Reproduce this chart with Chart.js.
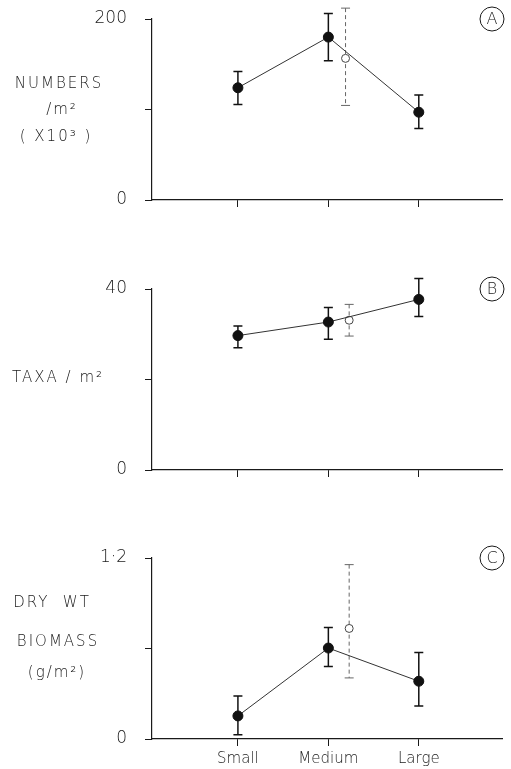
<!DOCTYPE html>
<html lang="en">
<head>
  <meta charset="UTF-8" />
  <title>Size class comparison</title>
  <script src="https://cdn.jsdelivr.net/npm/chart.js"></script>
  <style>
    body { margin: 0; background: #fff; }
    canvas.panel { position: absolute; left: 0; }
  </style>
</head>
<body>
  <canvas id="chartA" class="panel" width="511" height="230" style="top:0px;width:511px;height:230px"></canvas>
  <canvas id="chartB" class="panel" width="511" height="230" style="top:270px;width:511px;height:230px"></canvas>
  <canvas id="chartC" class="panel" width="511" height="230" style="top:539px;width:511px;height:230px"></canvas>

  <script>
    // categories on the x axis
    const sizeClasses = ['Small', 'Medium', 'Large'];
    const classPos = [1, 2, 3];

    // Panel A - numbers / m2 (x 10^3)
    const numbersMean = [124, 180, 97];
    const numbersLo = [105.5, 154, 79];
    const numbersHi = [142, 206, 116];
    const numbersOpenX = [2.19];
    const numbersOpen = [156.5];
    const numbersOpenLo = [104.5];
    const numbersOpenHi = [212];
    const numbersTicks = [0, 100, 200];
    const numbersTickLabels = ['0', '', '200'];

    // Panel B - taxa / m2
    const taxaMean = [29.7, 32.7, 37.7];
    const taxaLo = [27.0, 28.9, 33.9];
    const taxaHi = [31.8, 35.9, 42.3];
    const taxaOpenX = [2.23];
    const taxaOpen = [33.1];
    const taxaOpenLo = [29.6];
    const taxaOpenHi = [36.6];
    const taxaTicks = [0, 20, 40];
    const taxaTickLabels = ['0', '', '40'];

    // Panel C - dry wt biomass g/m2
    const biomassMean = [0.153, 0.603, 0.383];
    const biomassLo = [0.029, 0.48, 0.218];
    const biomassHi = [0.285, 0.74, 0.573];
    const biomassOpenX = [2.23];
    const biomassOpen = [0.733];
    const biomassOpenLo = [0.405];
    const biomassOpenHi = [1.156];
    const biomassTicks = [0, 0.6, 1.2];
    const biomassTickLabels = ['0', '', '1·2'];

    const FONT = '"DejaVu Sans", Verdana, sans-serif';
    const INK = '#1a1a1a';

    // vertical error bars with caps, drawn under the points
    const errorBarPlugin = {
      id: 'errorBars',
      beforeDatasetsDraw(chart, args, opts) {
        const { ctx } = chart;
        const x = chart.scales.x, y = chart.scales.y;
        ctx.save();
        opts.bars.forEach(b => {
          ctx.strokeStyle = b.color;
          ctx.lineWidth = b.width;
          b.xs.forEach((xv, i) => {
            const px = x.getPixelForValue(xv);
            const top = y.getPixelForValue(b.hi[i]);
            const bot = y.getPixelForValue(b.lo[i]);
            ctx.setLineDash(b.dash);
            ctx.beginPath();
            ctx.moveTo(px, top);
            ctx.lineTo(px, bot);
            ctx.stroke();
            ctx.setLineDash([]);
            ctx.beginPath();
            ctx.moveTo(px - 4.5, top); ctx.lineTo(px + 4.5, top);
            ctx.moveTo(px - 4.5, bot); ctx.lineTo(px + 4.5, bot);
            ctx.stroke();
          });
        });
        ctx.restore();
      }
    };

    // horizontal y titles and the circled panel letter
    const panelTextPlugin = {
      id: 'panelText',
      afterDraw(chart, args, opts) {
        const { ctx } = chart;
        ctx.save();
        ctx.fillStyle = INK;
        ctx.textAlign = 'center';
        ctx.textBaseline = 'middle';
        ctx.font = '200 15px ' + FONT;
        ctx.letterSpacing = '2px';
        opts.lines.forEach(l => ctx.fillText(l.text, l.x, l.y));
        ctx.letterSpacing = '0px';
        ctx.strokeStyle = INK;
        ctx.lineWidth = 1;
        ctx.beginPath();
        ctx.arc(492, 19, 12, 0, Math.PI * 2);
        ctx.stroke();
        ctx.font = '200 16px ' + FONT;
        ctx.fillText(opts.letter, 492, 20);
        ctx.restore();
      }
    };

    function makePanel(id, p) {
      const ctx = document.getElementById(id).getContext('2d');
      return new Chart(ctx, {
        type: 'scatter',
        data: {
          datasets: [
            {
              data: classPos.map((v, i) => ({ x: v, y: p.mean[i] })),
              showLine: true,
              borderColor: '#333',
              borderWidth: 1,
              pointRadius: 5,
              pointBackgroundColor: '#111',
              pointBorderColor: '#111',
              clip: false
            },
            {
              data: p.openX.map((v, i) => ({ x: v, y: p.open[i] })),
              showLine: false,
              pointRadius: 4,
              pointBackgroundColor: '#fff',
              pointBorderColor: '#444',
              pointBorderWidth: 1,
              clip: false
            }
          ]
        },
        options: {
          responsive: false,
          animation: false,
          layout: { padding: { top: 19, right: 9, left: 0, bottom: 0 } },
          plugins: {
            legend: { display: false },
            tooltip: { enabled: false },
            errorBars: {
              bars: [
                { xs: classPos, lo: p.lo, hi: p.hi, color: '#111', width: 1.5, dash: [] },
                { xs: p.openX, lo: p.openLo, hi: p.openHi, color: '#666', width: 1, dash: [4, 3] }
              ]
            },
            panelText: { lines: p.title, letter: p.letter }
          },
          scales: {
            x: {
              type: 'linear',
              min: 0.05,
              max: 3.92,
              afterBuildTicks: s => { s.ticks = classPos.map(v => ({ value: v })); },
              afterFit: s => { s.height = 30; },
              grid: { drawOnChartArea: false, tickLength: 7, color: INK },
              border: { color: INK, width: 1.2 },
              ticks: {
                autoSkip: false,
                maxRotation: 0,
                padding: 4,
                color: INK,
                font: { family: FONT, size: 15, weight: '200' },
                callback: v => p.showX ? sizeClasses[classPos.indexOf(v)] : ''
              }
            },
            y: {
              min: p.ticks[0],
              max: p.ticks[p.ticks.length - 1],
              afterBuildTicks: s => { s.ticks = p.ticks.map(v => ({ value: v })); },
              afterFit: s => { s.width = 152; s.paddingTop = 0; s.paddingBottom = 0; },
              grid: { drawOnChartArea: false, tickLength: 7, color: INK },
              border: { color: INK, width: 1.2 },
              ticks: {
                padding: 18,
                color: INK,
                font: { family: FONT, size: 17, weight: '200' },
                callback: (v, i) => p.tickLabels[i]
              }
            }
          }
        },
        plugins: [errorBarPlugin, panelTextPlugin]
      });
    }

    makePanel('chartA', {
      mean: numbersMean, lo: numbersLo, hi: numbersHi,
      openX: numbersOpenX, open: numbersOpen, openLo: numbersOpenLo, openHi: numbersOpenHi,
      ticks: numbersTicks, tickLabels: numbersTickLabels, showX: false, letter: 'A',
      title: [
        { text: 'NUMBERS', x: 59, y: 84 },
        { text: '/m²', x: 62, y: 110 },
        { text: '( X10³ )', x: 56, y: 137 }
      ]
    });

    makePanel('chartB', {
      mean: taxaMean, lo: taxaLo, hi: taxaHi,
      openX: taxaOpenX, open: taxaOpen, openLo: taxaOpenLo, openHi: taxaOpenHi,
      ticks: taxaTicks, tickLabels: taxaTickLabels, showX: false, letter: 'B',
      title: [
        { text: 'TAXA / m²', x: 58, y: 108 }
      ]
    });

    makePanel('chartC', {
      mean: biomassMean, lo: biomassLo, hi: biomassHi,
      openX: biomassOpenX, open: biomassOpen, openLo: biomassOpenLo, openHi: biomassOpenHi,
      ticks: biomassTicks, tickLabels: biomassTickLabels, showX: true, letter: 'C',
      title: [
        { text: 'DRY  WT', x: 52, y: 64 },
        { text: 'BIOMASS', x: 58, y: 103 },
        { text: '(g/m²)', x: 57, y: 134 }
      ]
    });
  </script>
</body>
</html>
